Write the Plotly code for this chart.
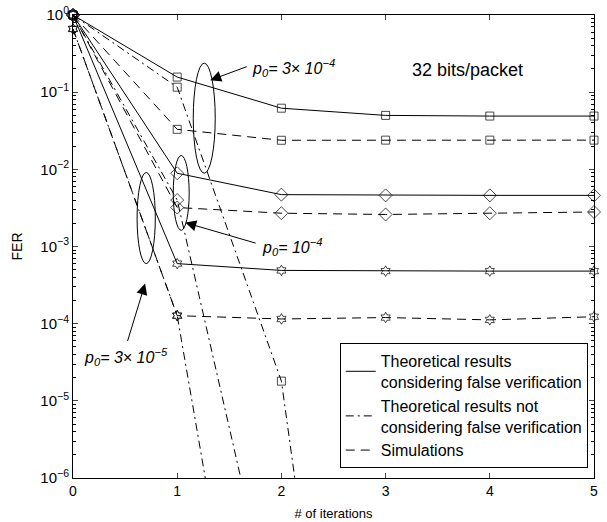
import plotly.graph_objects as go

iterations = [0, 1, 2, 3, 4, 5]

# Theoretical results considering false verification (solid)
theory_fv_3e4 = [1.0, 0.157, 0.062, 0.050, 0.049, 0.049]
theory_fv_1e4 = [1.0, 0.0089, 0.0047, 0.0046, 0.0046, 0.0046]
theory_fv_3e5 = [1.0, 6.0e-4, 4.9e-4, 4.8e-4, 4.8e-4, 4.8e-4]

# Theoretical results not considering false verification (dash-dot)
nofv_iter = [0, 1, 2, 3]
theory_nofv_3e4 = [1.0, 0.116, 1.8e-5, 3e-15]
theory_nofv_1e4 = [1.0, 0.0040, 5e-9, 1e-15]
theory_nofv_3e5 = [0.66, 1.27e-4, 2e-12, 1e-20]

# Simulations (dashed)
sim_3e4 = [1.0, 0.033, 0.0238, 0.0239, 0.0239, 0.0239]
sim_1e4 = [1.0, 0.0032, 0.0027, 0.0026, 0.0027, 0.0028]
sim_3e5 = [0.66, 1.27e-4, 1.15e-4, 1.2e-4, 1.12e-4, 1.23e-4]

ytick_vals = [1e-6, 1e-5, 1e-4, 1e-3, 1e-2, 1e-1, 1]
ytick_text = ["10<sup>−6</sup>", "10<sup>−5</sup>", "10<sup>−4</sup>", "10<sup>−3</sup>",
              "10<sup>−2</sup>", "10<sup>−1</sup>", "10<sup>0</sup>"]
xtick_vals = [0, 1, 2, 3, 4, 5]

legend_names = ["Theoretical results<br>considering false verification",
                "Theoretical results not<br>considering false verification",
                "Simulations"]

FONT = "Liberation Sans, Arial, sans-serif"
DASH = "9px,6px"
DASHDOT = "8px,4px,2px,4px"
YMIN = 1e-6

fig = go.Figure()


def add_curve(xs, ys, dash, symbol, size):
    sizes = [size if v >= YMIN else 0 for v in ys]
    fig.add_trace(go.Scatter(
        x=xs, y=ys, mode="lines+markers", showlegend=False, cliponaxis=False,
        line=dict(color="black", width=1, dash=dash),
        marker=dict(symbol=symbol, size=sizes, color="black",
                    line=dict(color="black", width=1)),
        hoverinfo="skip"))


groups = [
    (theory_fv_3e4, theory_nofv_3e4, sim_3e4, "square-open", 8),
    (theory_fv_1e4, theory_nofv_1e4, sim_1e4, "diamond-open", 10),
    (theory_fv_3e5, theory_nofv_3e5, sim_3e5, "hexagram-open", 8),
]
for fv, nofv, sim, sym, sz in groups:
    add_curve(nofv_iter, nofv, DASHDOT, sym, sz)
    add_curve(iterations, sim, DASH, sym, sz)
    add_curve(iterations, fv, "solid", sym, sz)

for name, dash in zip(legend_names, ["solid", DASHDOT, DASH]):
    fig.add_trace(go.Scatter(x=[None], y=[None], mode="lines", name=name,
                             line=dict(color="black", width=1, dash=dash)))

# Ellipses (x range, y range as FER values)
ellipses = [
    (1.154, 1.365, 0.238, 0.0089),
    (0.962, 1.115, 0.0151, 0.00162),
    (0.615, 0.790, 0.0091, 0.0006),
]
for x0, x1, y0, y1 in ellipses:
    fig.add_shape(type="circle", xref="x", yref="y", x0=x0, x1=x1, y0=y0, y1=y1,
                  line=dict(color="black", width=1))

# Arrows
arrows = [
    (1.317, -0.844, 38, -14),
    (1.077, -2.69, 72, 21),
    (0.692, -3.48, -18, 59),
]
for x, y, ax, ay in arrows:
    fig.add_annotation(x=x, y=y, xref="x", yref="y", ax=ax, ay=ay, text="",
                       showarrow=True, arrowhead=2, arrowsize=2.2, arrowwidth=1,
                       arrowcolor="black", standoff=0)

labels = [
    (1.70, -0.69, "<i>p<sub>0</sub>= 3× 10<sup>−4</sup></i>"),
    (1.79, -3.01, "<i>p<sub>0</sub>= 10<sup>−4</sup></i>"),
    (0.087, -4.43, "<i>p<sub>0</sub>= 3× 10<sup>−5</sup></i>"),
]
for x, y, t in labels:
    fig.add_annotation(x=x, y=y, xref="x", yref="y", text=t, showarrow=False,
                       xanchor="left", yanchor="middle",
                       font=dict(family=FONT, size=16, color="black"))

fig.add_annotation(x=3.79, y=-0.71, xref="x", yref="y", text="32 bits/packet",
                   showarrow=False, font=dict(family=FONT, size=18, color="black"))

fig.update_layout(
    width=607, height=522,
    margin=dict(l=73, r=13, t=15, b=44),
    paper_bgcolor="white", plot_bgcolor="white",
    font=dict(family=FONT, color="black", size=13),
    legend=dict(x=0.512, y=0.2916, xanchor="left", yanchor="top",
                bordercolor="black", borderwidth=1, bgcolor="white",
                font=dict(family=FONT, size=16), tracegroupgap=0),
    xaxis=dict(range=[0, 5], tickvals=xtick_vals, ticks="inside", ticklen=5,
               mirror="ticks", showline=True, linecolor="black", linewidth=1,
               showgrid=False, zeroline=False, tickfont=dict(size=14),
               automargin=False,
               title=dict(text="# of iterations", font=dict(size=13), standoff=11)),
    yaxis=dict(type="log", range=[-6, 0], tickvals=ytick_vals, ticktext=ytick_text,
               ticks="inside", ticklen=5, mirror="ticks", showline=True,
               linecolor="black", linewidth=1, showgrid=False, zeroline=False,
               tickfont=dict(size=15), automargin=False,
               minor=dict(ticks="inside", ticklen=3, tickcolor="black",
                          tickvals=[m * 10 ** e for e in range(-6, 0) for m in range(2, 10)]),
               title=dict(text="FER", font=dict(size=14), standoff=14)),
)

fig.write_html("out.html", config={"displayModeBar": False},
               post_script="document.body.style.margin='0';")
